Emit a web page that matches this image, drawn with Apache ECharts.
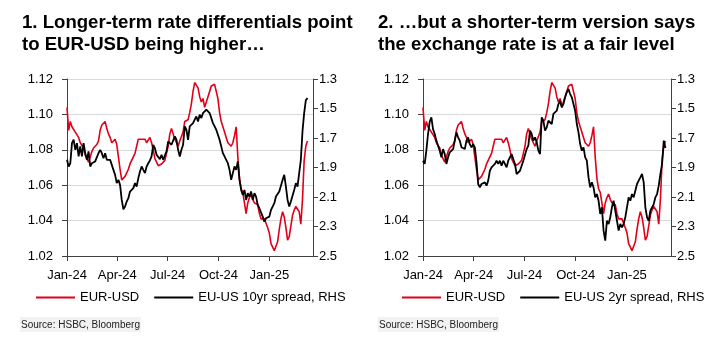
<!DOCTYPE html>
<html>
<head>
<meta charset="utf-8">
<script src="https://cdn.jsdelivr.net/npm/echarts@6/dist/echarts.min.js"></script>
<style>
  html, body { margin: 0; padding: 0; background: #fff; }
  #chart { width: 718px; height: 352px; }
</style>
</head>
<body>
<div id="chart"></div>
<script>
// x axis ticks (quarter starts) and their labels
var tickDates = ['2024-01-01', '2024-04-01', '2024-07-01', '2024-10-01', '2025-01-01'];
var tickLabels = ['Jan-24', 'Apr-24', 'Jul-24', 'Oct-24', 'Jan-25'];
// observations every 3 days from first date
var firstDate = '2024-01-01';
var stepDays = 3;
var axisEnd = '2025-03-21';

// EUR-USD (LHS)
var eurusd = [1.104,1.091,1.096,1.093,1.094,1.090,1.090,1.087,1.084,1.083,
    1.081,1.077,1.075,1.073,1.074,1.079,1.081,1.082,1.083,1.085,
    1.091,1.094,1.095,1.096,1.092,1.089,1.087,1.084,1.085,1.086,
    1.083,1.076,1.069,1.063,1.063,1.065,1.067,1.069,1.072,1.074,
    1.076,1.078,1.082,1.086,1.087,1.086,1.087,1.086,1.084,1.085,
    1.087,1.084,1.080,1.075,1.073,1.071,1.070,1.072,1.072,1.074,
    1.078,1.082,1.089,1.092,1.091,1.086,1.084,1.082,1.085,1.085,
    1.090,1.096,1.095,1.097,1.101,1.106,1.113,1.118,1.117,1.115,
    1.110,1.107,1.109,1.104,1.107,1.110,1.113,1.116,1.116,1.117,
    1.116,1.109,1.101,1.096,1.093,1.090,1.087,1.084,1.085,1.082,
    1.084,1.088,1.093,1.076,1.064,1.058,1.056,1.050,1.044,1.050,
    1.053,1.055,1.052,1.050,1.051,1.049,1.044,1.041,1.040,1.041,
    1.040,1.036,1.033,1.027,1.026,1.023,1.024,1.028,1.035,1.041,
    1.045,1.042,1.036,1.029,1.031,1.037,1.043,1.046,1.048,1.049,
    1.045,1.038,1.052,1.074,1.082,1.085];

// EU-US 10yr spread (RHS, inverted)
var spread10 = [1.848,1.893,1.871,1.735,1.712,1.780,1.735,1.825,1.757,1.825,
    1.735,1.803,1.848,1.791,1.893,1.871,1.882,1.859,1.848,1.803,
    1.780,1.803,1.837,1.803,1.848,1.837,1.848,1.882,1.916,1.950,
    2.006,1.984,2.018,2.120,2.183,2.165,2.131,2.108,2.063,2.052,
    2.040,2.006,2.029,1.972,1.927,1.893,1.916,1.938,1.893,1.871,
    1.852,1.825,1.746,1.769,1.814,1.825,1.843,1.814,1.848,1.859,
    1.791,1.723,1.712,1.746,1.735,1.689,1.712,1.780,1.825,1.780,
    1.746,1.621,1.644,1.712,1.621,1.633,1.599,1.576,1.554,1.588,
    1.542,1.565,1.531,1.542,1.508,1.497,1.531,1.565,1.599,1.621,
    1.644,1.678,1.712,1.757,1.803,1.825,1.848,1.871,1.916,1.984,
    1.938,1.893,1.916,1.859,1.984,2.052,2.086,2.052,2.120,2.074,
    2.097,2.063,2.120,2.074,2.097,2.154,2.176,2.165,2.233,2.267,
    2.244,2.255,2.233,2.188,2.165,2.142,2.097,2.108,2.063,2.052,
    1.984,1.950,2.029,2.120,2.165,2.131,2.120,2.052,2.006,2.029,
    1.938,1.848,1.655,1.531,1.445,1.429];

// EU-US 2yr spread (RHS, inverted)
var spread2 = [1.854,1.876,1.786,1.673,1.590,1.560,1.640,1.673,1.718,1.729,
    1.786,1.831,1.775,1.809,1.876,1.831,1.797,1.809,1.775,1.718,
    1.662,1.696,1.718,1.763,1.752,1.775,1.718,1.696,1.741,1.763,
    1.741,1.763,1.865,2.012,2.035,2.012,2.023,2.001,2.023,1.989,
    1.922,1.899,1.910,1.876,1.854,1.876,1.854,1.888,1.854,1.876,
    1.899,1.854,1.842,1.809,1.797,1.876,1.944,1.955,1.922,1.910,
    1.854,1.854,1.775,1.752,1.650,1.673,1.718,1.696,1.729,1.786,
    1.809,1.560,1.583,1.650,1.628,1.583,1.571,1.605,1.537,1.526,
    1.515,1.470,1.447,1.492,1.470,1.424,1.390,1.368,1.402,1.424,
    1.470,1.515,1.605,1.662,1.741,1.786,1.763,1.831,1.854,1.967,
    2.035,2.001,2.035,2.102,2.080,2.125,2.215,2.170,2.328,2.396,
    2.261,2.283,2.238,2.170,2.125,2.193,2.204,2.328,2.283,2.306,
    2.283,2.238,2.170,2.102,2.125,2.080,2.102,2.057,2.012,1.989,
    1.967,1.944,2.001,2.170,2.238,2.261,2.193,2.170,2.148,2.102,
    2.080,2.023,1.944,1.876,1.718,1.768];

var DAY = 86400000;
var t0 = new Date(firstDate).getTime();
function pairs(arr) {
    return arr.map(function (v, i) { return [t0 + i * stepDays * DAY, v]; });
}
var tickTimes = tickDates.map(function (d) { return new Date(d).getTime(); });

var RED = '#e10019';
var FONT = 'Liberation Sans';

//x轴: 季度刻度
function xAxisFor(g) {
    return {
        type: 'value', gridIndex: g,
        min: t0, max: new Date(axisEnd).getTime(),
        axisLine: { lineStyle: { color: '#404040', width: 1 } },
        axisTick: { show: true, length: 5, customValues: tickTimes, lineStyle: { color: '#404040' } },
        axisLabel: {
            customValues: tickTimes, margin: 13, fontSize: 13, color: '#000', fontFamily: FONT,
            formatter: function (v) { return tickLabels[tickTimes.indexOf(v)] || ''; }
        },
        splitLine: { show: false }
    };
}
function leftAxis(g) {
    return {
        type: 'value', gridIndex: g, min: 1.02, max: 1.12, interval: 0.02,
        axisLine: { show: true, lineStyle: { color: '#404040' } },
        axisTick: { show: true, length: 5, lineStyle: { color: '#404040' } },
        axisLabel: { margin: 14, fontSize: 13, color: '#000', fontFamily: FONT,
            formatter: function (v) { return v.toFixed(2); } },
        splitLine: { show: true, lineStyle: { color: '#d9d9d9', width: 1 } }
    };
}
//右轴反向
function rightAxis(g) {
    return {
        type: 'value', gridIndex: g, position: 'right', inverse: true,
        min: 1.3, max: 2.5, interval: 0.2,
        axisLine: { show: true, lineStyle: { color: '#404040' } },
        axisTick: { show: true, length: 5, lineStyle: { color: '#404040' } },
        axisLabel: { margin: 6, fontSize: 13, color: '#000', fontFamily: FONT,
            formatter: function (v) { return v.toFixed(1); } },
        splitLine: { show: false }
    };
}

var titleStyle = { fontSize: 18.6, fontWeight: 'bold', color: '#000', lineHeight: 22, fontFamily: FONT };
var legendText = { fontSize: 13, color: '#000', fontFamily: FONT };

var myChart = echarts.init(document.getElementById('chart'), null, { renderer: 'canvas' });
var option = {
    animation: false,
    backgroundColor: '#fff',
    title: [
        { text: '1. Longer-term rate differentials point\nto EUR-USD being higher…', left: 17, top: 7, textStyle: titleStyle },
        { text: '2. …but a shorter-term version says\nthe exchange rate is at a fair level', left: 373, top: 7, textStyle: titleStyle }
    ],
    legend: [
        { data: ['EUR-USD', 'EU-US 10yr spread, RHS'], left: 31, top: 286, itemWidth: 39, itemHeight: 2,
          itemGap: 15, icon: 'rect', textStyle: legendText },
        { data: ['EUR-USD', 'EU-US 2yr spread, RHS'], left: 397, top: 286, itemWidth: 39, itemHeight: 2,
          itemGap: 15, icon: 'rect', textStyle: legendText }
    ],
    grid: [
        { left: 67, top: 79, width: 246, height: 177 },
        { left: 423, top: 79, width: 248, height: 177 }
    ],
    xAxis: [xAxisFor(0), xAxisFor(1)],
    yAxis: [leftAxis(0), rightAxis(0), leftAxis(1), rightAxis(1)],
    series: [
        { name: 'EUR-USD', type: 'line', xAxisIndex: 0, yAxisIndex: 0, data: pairs(eurusd),
          showSymbol: false, symbol: 'none', color: RED, lineStyle: { width: 1.6, color: RED } },
        { name: 'EU-US 10yr spread, RHS', type: 'line', xAxisIndex: 0, yAxisIndex: 1, data: pairs(spread10),
          showSymbol: false, symbol: 'none', color: '#000', lineStyle: { width: 1.8, color: '#000' } },
        { name: 'EUR-USD', type: 'line', xAxisIndex: 1, yAxisIndex: 2, data: pairs(eurusd),
          showSymbol: false, symbol: 'none', color: RED, lineStyle: { width: 1.6, color: RED } },
        { name: 'EU-US 2yr spread, RHS', type: 'line', xAxisIndex: 1, yAxisIndex: 3, data: pairs(spread2),
          showSymbol: false, symbol: 'none', color: '#000', lineStyle: { width: 1.8, color: '#000' } }
    ],
    graphic: [
        { type: 'text', left: 20, top: 317, style: { text: 'Source: HSBC, Bloomberg', fontSize: 10, fill: '#222',
          fontFamily: FONT, backgroundColor: '#f2f2f2', padding: [3, 1, 2, 1] } },
        { type: 'text', left: 378, top: 317, style: { text: 'Source: HSBC, Bloomberg', fontSize: 10, fill: '#222',
          fontFamily: FONT, backgroundColor: '#f2f2f2', padding: [3, 1, 2, 1] } }
    ]
};
myChart.setOption(option);
window.addEventListener('resize', function () {
    myChart.resize();
});
</script>
</body>
</html>
